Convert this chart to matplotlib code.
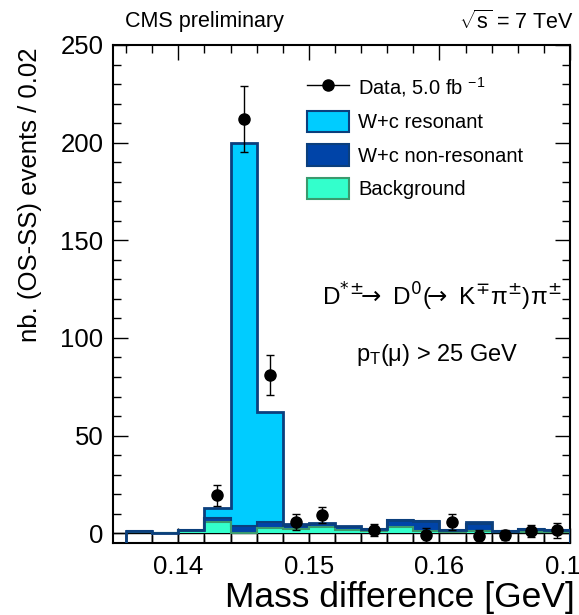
import numpy as np
import matplotlib
matplotlib.use("Agg")
import matplotlib.pyplot as plt
from matplotlib.ticker import MultipleLocator, FormatStrFormatter
from matplotlib.lines import Line2D
from matplotlib.patches import Patch

plt.rcParams['font.family'] = ['Liberation Sans', 'DejaVu Sans']
plt.rcParams['mathtext.fontset'] = 'custom'
plt.rcParams['mathtext.rm'] = 'Liberation Sans'
plt.rcParams['mathtext.it'] = 'Liberation Sans:italic'
plt.rcParams['mathtext.bf'] = 'Liberation Sans:bold'

# bin edges (GeV)
edges = [0.136, 0.138, 0.140, 0.142, 0.144, 0.146, 0.148, 0.150, 0.152,
         0.154, 0.156, 0.158, 0.160, 0.162, 0.164, 0.166, 0.168, 0.170]
# contributions per bin, stacked
background = [0.5, 0.3, 1.0, 5.8, 0.0, 2.5, 2.0, 3.0, 1.5, 1.0, 3.0, 1.0, 0.5, 1.2, 0.5, 0.6, 0.4]
nonres     = [0.5, 0.0, 0.9, 2.2, 3.5, 3.5, 1.5, 1.5, 1.5, 1.4, 4.0, 5.3, 1.0, 3.3, 0.5, 1.4, 1.1]
resonant   = [0.0, 0.0, 0.0, 5.0, 196.5, 56.0, 1.0, 0.5, 0.7, 0.0, 0.0, 0.0, 0.0, 1.0, 0.0, 0.0, 0.0]

# data points
data_x   = [0.143, 0.145, 0.147, 0.149, 0.151, 0.155, 0.159, 0.161, 0.163, 0.165, 0.167, 0.169]
data_y   = [19.5, 212.0, 81.0, 5.8, 9.2, 1.5, -1.0, 5.8, -1.5, -1.0, 1.2, 1.5]
data_err = [5.3, 17.0, 10.2, 4.0, 4.0, 3.0, 3.5, 4.0, 3.0, 2.5, 3.0, 3.7]

c_res = '#00ccff'
c_nr = '#0044a8'
c_bg = '#33ffcc'
c_line = '#0b3f7d'
c_bgline = '#3a9a6e'

W, H = 579, 615
fig = plt.figure(figsize=(W / 100, H / 100), dpi=100)
ax = fig.add_axes([113 / W, (H - 543) / H, 457 / W, 498 / H])

bg = np.array(background)
nr = np.array(nonres)
res = np.array(resonant)

# white boxes below zero
cells = [0.134] + edges[:-1]
ax.bar(cells, [5] * len(cells), width=0.002, bottom=-5, align='edge',
       facecolor='white', edgecolor='k', lw=1, zorder=1.5)

ax.stairs(bg + nr + res, edges, baseline=0, fill=True, color=c_res, zorder=2)
ax.stairs(bg + nr, edges, baseline=0, fill=True, color=c_nr, zorder=2.1)
ax.stairs(bg, edges, baseline=0, fill=True, color=c_bg, zorder=2.2)
ax.stairs(bg + nr, edges, baseline=None, color=c_line, lw=1.5, zorder=2.5)
ax.stairs(bg, edges, baseline=None, color=c_bgline, lw=1.5, zorder=2.6)
ax.stairs(bg + nr + res, edges, baseline=-5, color=c_line, lw=2, zorder=3)

ax.errorbar(data_x, data_y, yerr=data_err, fmt='o', color='k', ms=8,
            capsize=3, elinewidth=1, capthick=1, zorder=5)

ax.set_xlim(0.135, 0.170)
ax.set_ylim(-5, 250)
ax.set_xticks([0.14, 0.15, 0.16, 0.17])
ax.xaxis.set_major_formatter(FormatStrFormatter('%.2f'))
ax.xaxis.set_minor_locator(MultipleLocator(0.002))
ax.yaxis.set_major_locator(MultipleLocator(50))
ax.yaxis.set_minor_locator(MultipleLocator(10))
ax.tick_params(which='both', direction='in', top=True, right=True, labelsize=18.5)
ax.tick_params(which='major', length=11, width=1)
ax.tick_params(which='minor', length=5.5, width=1)
ax.tick_params(axis='x', pad=9)
ax.tick_params(axis='y', pad=7)
for s in ax.spines.values():
    s.set_linewidth(1.5)

fig.text(575 / W, 1 - 597 / H, "Mass difference [GeV]", ha='right', va='center', fontsize=25.5)
fig.text(30 / W, 1 - 47 / H, "nb. (OS-SS) events / 0.02", ha='center', va='top',
         rotation=90, fontsize=18.5)
fig.text(125 / W, 1 - 22 / H, "CMS preliminary", ha='left', va='center', fontsize=15.5)
fig.text(574 / W, 1 - 22 / H, r"$\sqrt{\mathrm{s}}$ = 7 TeV", ha='right', va='center', fontsize=15.5)

fig.text(442 / W, 1 - 297 / H,
         r"D$^{*}$$^{\pm}\!\!\rightarrow$ D$^{0}$($\!\!\rightarrow$ K$^{\mp}$π$^{\pm}$)π$^{\pm}$",
         ha='center', va='center', fontsize=17.5, math_fontfamily='dejavusans')
fig.text(437 / W, 1 - 355 / H, r"p$_{\mathrm{T}}$(μ) > 25 GeV",
         ha='center', va='center', fontsize=17)

handles = [
    Line2D([], [], color='k', marker='o', ms=8, lw=1),
    Patch(facecolor=c_res, edgecolor=c_line, lw=1.5),
    Patch(facecolor=c_nr, edgecolor=c_line, lw=1.5),
    Patch(facecolor=c_bg, edgecolor=c_bgline, lw=1.5),
]
labels = [r"Data, 5.0 fb $^{-1}$", "W+c resonant", "W+c non-resonant", "Background"]
ax.legend(handles, labels, loc='upper left', bbox_to_anchor=(307 / W, 1 - 75 / H),
          bbox_transform=fig.transFigure, frameon=False, fontsize=14.5,
          handlelength=2.1, handleheight=1.25, labelspacing=0.6,
          handletextpad=0.45, borderpad=0, borderaxespad=0)

fig.savefig("out.png", dpi=100)
